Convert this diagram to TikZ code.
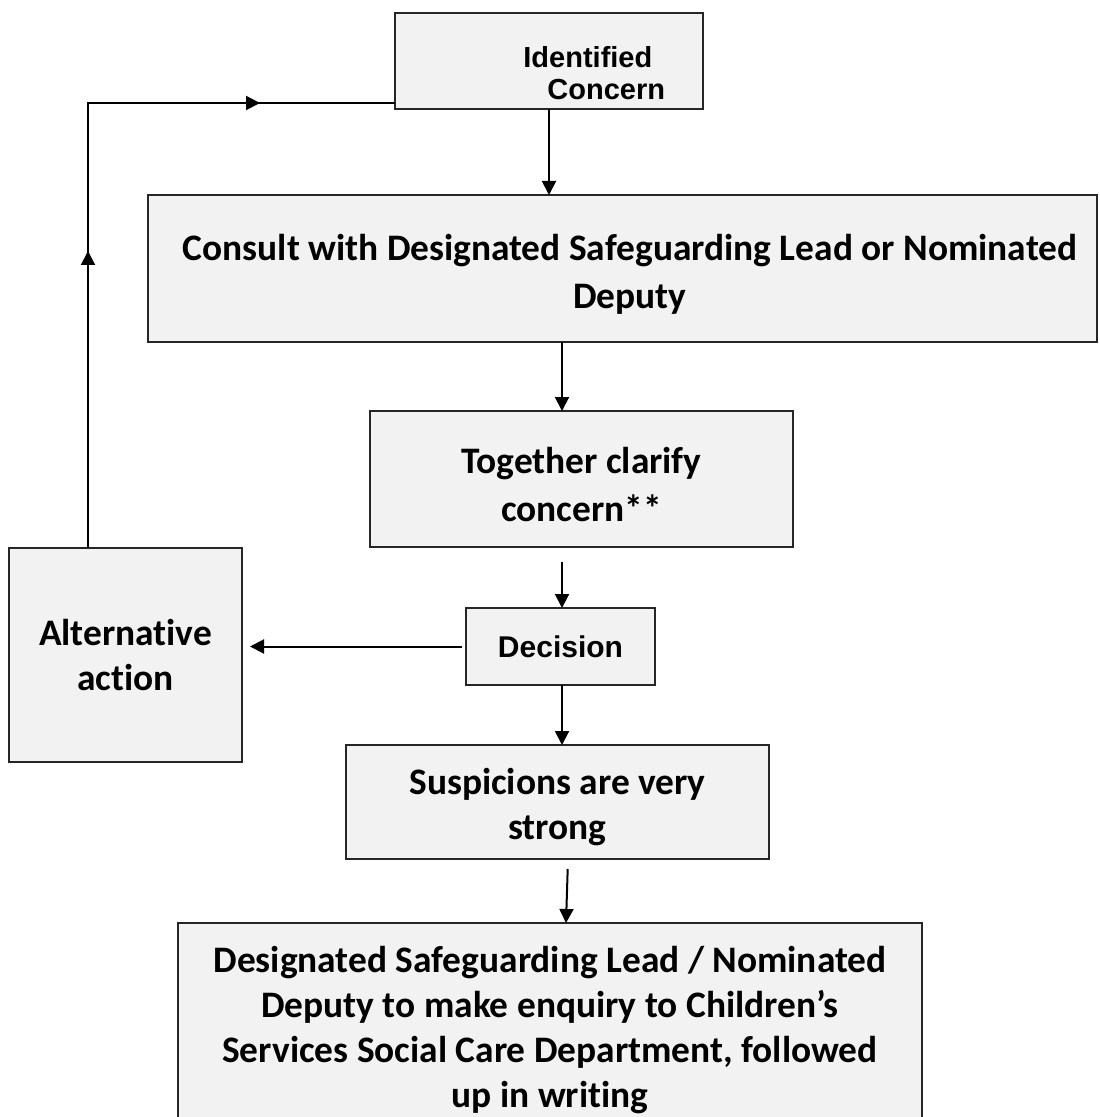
\documentclass[tikz,border=0pt]{standalone}
\usepackage{fontspec}
\setmainfont{Carlito}[Ligatures=NoCommon]
\newfontfamily\arialfont{Liberation Sans}
\usepackage{tikz}
\usetikzlibrary{arrows.meta,decorations.markings}
\usetikzlibrary{calc}
\usetikzlibrary{positioning}
\definecolor{boxgray}{HTML}{F2F2F2}

\begin{document}
\begin{tikzpicture}[
  x=0.5pt, y=-0.5pt,
  > = {Triangle[length=7pt,width=7pt]},
  box/.style = {draw=black!85, line width=1pt, fill=boxgray, inner sep=0pt, outer sep=0pt,
    align=center, font=\bfseries\fontsize{18.7}{22.5}\selectfont},
  widebox/.style = {box, font=\bfseries\fontsize{18.7}{24}\selectfont},
  smallbox/.style = {box, font=\arialfont\bfseries\fontsize{15}{16}\selectfont},
  flow/.style = {->, line width=1pt},
  arrow inside/.style = {postaction=decorate,decoration={markings,
    mark=at position 148.5pt with \arrow{>},
    mark=at position 308.5pt with \arrow{>}}}
  ]
	\useasboundingbox (0,0) rectangle (1099,1117);

	\node[smallbox, minimum width=154pt, minimum height=48pt] (ident) at (549,61) {};
	\node[anchor=west, inner sep=0pt, align=left, font=\arialfont\bfseries\fontsize{14.5}{16}\selectfont] (identlbl) at (523,73) {Identified\\\hspace*{12pt}Concern};
	\node[widebox, minimum width=474.5pt, minimum height=73.5pt] (consult) at (622.5,268.5) {\rule{0pt}{19pt}\hspace*{7.5pt}Consult with Designated Safeguarding Lead or Nominated\\\hspace*{7.5pt}Deputy};
	\node[widebox, minimum width=211.5pt, minimum height=68pt] (together) at (581.5,479) {\rule{0pt}{19pt}Together clarify\\concern**};
	\node[smallbox, minimum width=94.5pt, minimum height=38.5pt] (decision) at (560.5,646.5) {Decision};
	\node[box, minimum width=116.5pt, minimum height=107pt] (alt) at (125.5,655) {Alternative\\action};
	\node[box, minimum width=211.5pt, minimum height=57pt] (susp) at (557.5,802) {\rule{0pt}{18pt}Suspicions are very\\strong};
	\node[box, minimum width=372pt, minimum height=107pt] (final) at (550,1030) {Designated Safeguarding Lead / Nominated\\Deputy to make enquiry to Children’s\\Services Social Care Department, followed\\up in writing};

	\coordinate (loopcorner) at (88,103);
	\coordinate (loopin) at (395,103);

	\draw[flow] (ident.south) -- (ident.south |- consult.north);
	\draw[flow] (consult.south -| 562,0) -- (together.north -| 562,0);
	\draw[flow, shorten <=7.5pt] (together.south -| 562,0) -- (decision.north -| 562,0);
	\draw[flow, shorten <=2pt, shorten >=4pt] (decision.west) -- (decision.west -| alt.east);
	\draw[flow] (decision.south -| 562,0) -- (susp.north -| 562,0);
	\draw[flow, shorten <=5pt] ($(susp.south -| 568,0)$) -- ($(final.north -| 566,0)$);
	\draw[line width=1pt, arrow inside] (loopcorner |- alt.north) -- (loopcorner) -- (loopin);

\end{tikzpicture}
\end{document}
